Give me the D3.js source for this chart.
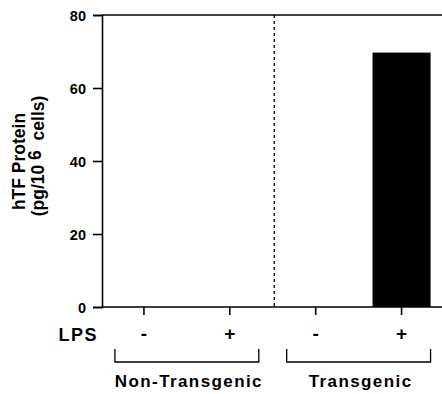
<!DOCTYPE html>
<html><head><meta charset="utf-8">
<script src="https://cdn.jsdelivr.net/npm/d3@7"></script>
<style>body{margin:0;background:#fff}svg{display:block}text{font-family:"Liberation Sans",Arial,sans-serif;font-weight:bold;fill:#000}</style>
</head><body>
<script>
const categories = ["NT-", "NT+", "T-", "T+"];
const lpsLabels = ["-", "+", "-", "+"];
const values = [0, 0, 0, 69.7];
const yTicks = [0, 20, 40, 60, 80];
const groups = [{name:"Non-Transgenic", cats:["NT-","NT+"]},{name:"Transgenic", cats:["T-","T+"]}];

const W = 442, H = 394;
const svg = d3.select("body").append("svg").attr("width", W).attr("height", H);
const x = d3.scaleBand().domain(categories).range([101, 444.5]).paddingInner(0.324).paddingOuter(0.162);
const y = d3.scaleLinear().domain([0, 80]).range([307, 15]);
const x0 = 102;

// bars
svg.selectAll("rect.bar").data(values).join("rect")
  .attr("x", (d,i) => x(categories[i])).attr("width", x.bandwidth())
  .attr("y", d => y(d)).attr("height", d => y(0) - y(d)).attr("fill", "#000");

// y axis
const ya = svg.append("g").attr("transform", `translate(${x0},0)`)
  .call(d3.axisLeft(y).tickValues(yTicks).tickSize(9).tickPadding(7));
ya.select(".domain").attr("stroke-width", 1.6);
ya.selectAll(".tick line").attr("stroke-width", 1.6);
ya.selectAll(".tick text").style("font-size", "14.5px").attr("dy", "0.36em");

// top line and bottom axis
svg.append("line").attr("x1", x0).attr("x2", W).attr("y1", y(80)).attr("y2", y(80)).attr("stroke", "#000").attr("stroke-width", 1.6);
const xa = svg.append("g").attr("transform", `translate(0,${y(0)})`)
  .call(d3.axisBottom(x).tickSize(8).tickFormat(""));
xa.select(".domain").remove();
xa.selectAll(".tick line").attr("stroke-width", 1.6);
svg.append("line").attr("x1", x0).attr("x2", W).attr("y1", y(0)).attr("y2", y(0)).attr("stroke", "#000").attr("stroke-width", 1.6);

// dashed divider
const divX = (x("NT+") + x.bandwidth() + x("T-")) / 2 + 1.5;
svg.append("line").attr("x1", divX).attr("x2", divX).attr("y1", y(80)).attr("y2", y(0))
  .attr("stroke", "#000").attr("stroke-width", 1.3).attr("stroke-dasharray", "3,3");

// LPS labels
svg.append("text").attr("x", 98).attr("y", 341).attr("text-anchor", "end").style("font-size", "18px").style("letter-spacing", "1.5px").text("LPS");
svg.selectAll("text.lps").data(categories).join("text").attr("class", "lps")
  .attr("x", d => x(d) + x.bandwidth()/2).attr("y", 340).attr("text-anchor", "middle")
  .style("font-size", "19px").text((d,i) => lpsLabels[i]);

// brackets
const bracketPad = 29;
groups.forEach(g => {
  const a = x(g.cats[0]) + x.bandwidth()/2 - bracketPad;
  const b = x(g.cats[1]) + x.bandwidth()/2 + bracketPad;
  svg.append("path").attr("d", `M${a},349V362H${b}V349`).attr("fill", "none").attr("stroke", "#000").attr("stroke-width", 1.3);
  svg.append("text").attr("x", (a+b)/2 + 2).attr("y", 387).attr("text-anchor", "middle")
    .style("font-size", "17px").style("letter-spacing", "1.4px").text(g.name);
});

// y label
svg.append("text").attr("transform", "translate(25,161.5) rotate(-90)").attr("text-anchor", "middle")
  .style("font-size", "17.5px").text("hTF Protein");
const l2 = svg.append("text").attr("transform", "translate(44,156) rotate(-90)").attr("text-anchor", "middle")
  .style("font-size", "17.5px").style("white-space", "pre");
l2.append("tspan").text("(pg/10 ");
l2.append("tspan").attr("dy", -3).text("6");
l2.append("tspan").attr("dy", 3).text("  cells)");
</script>
</body></html>
